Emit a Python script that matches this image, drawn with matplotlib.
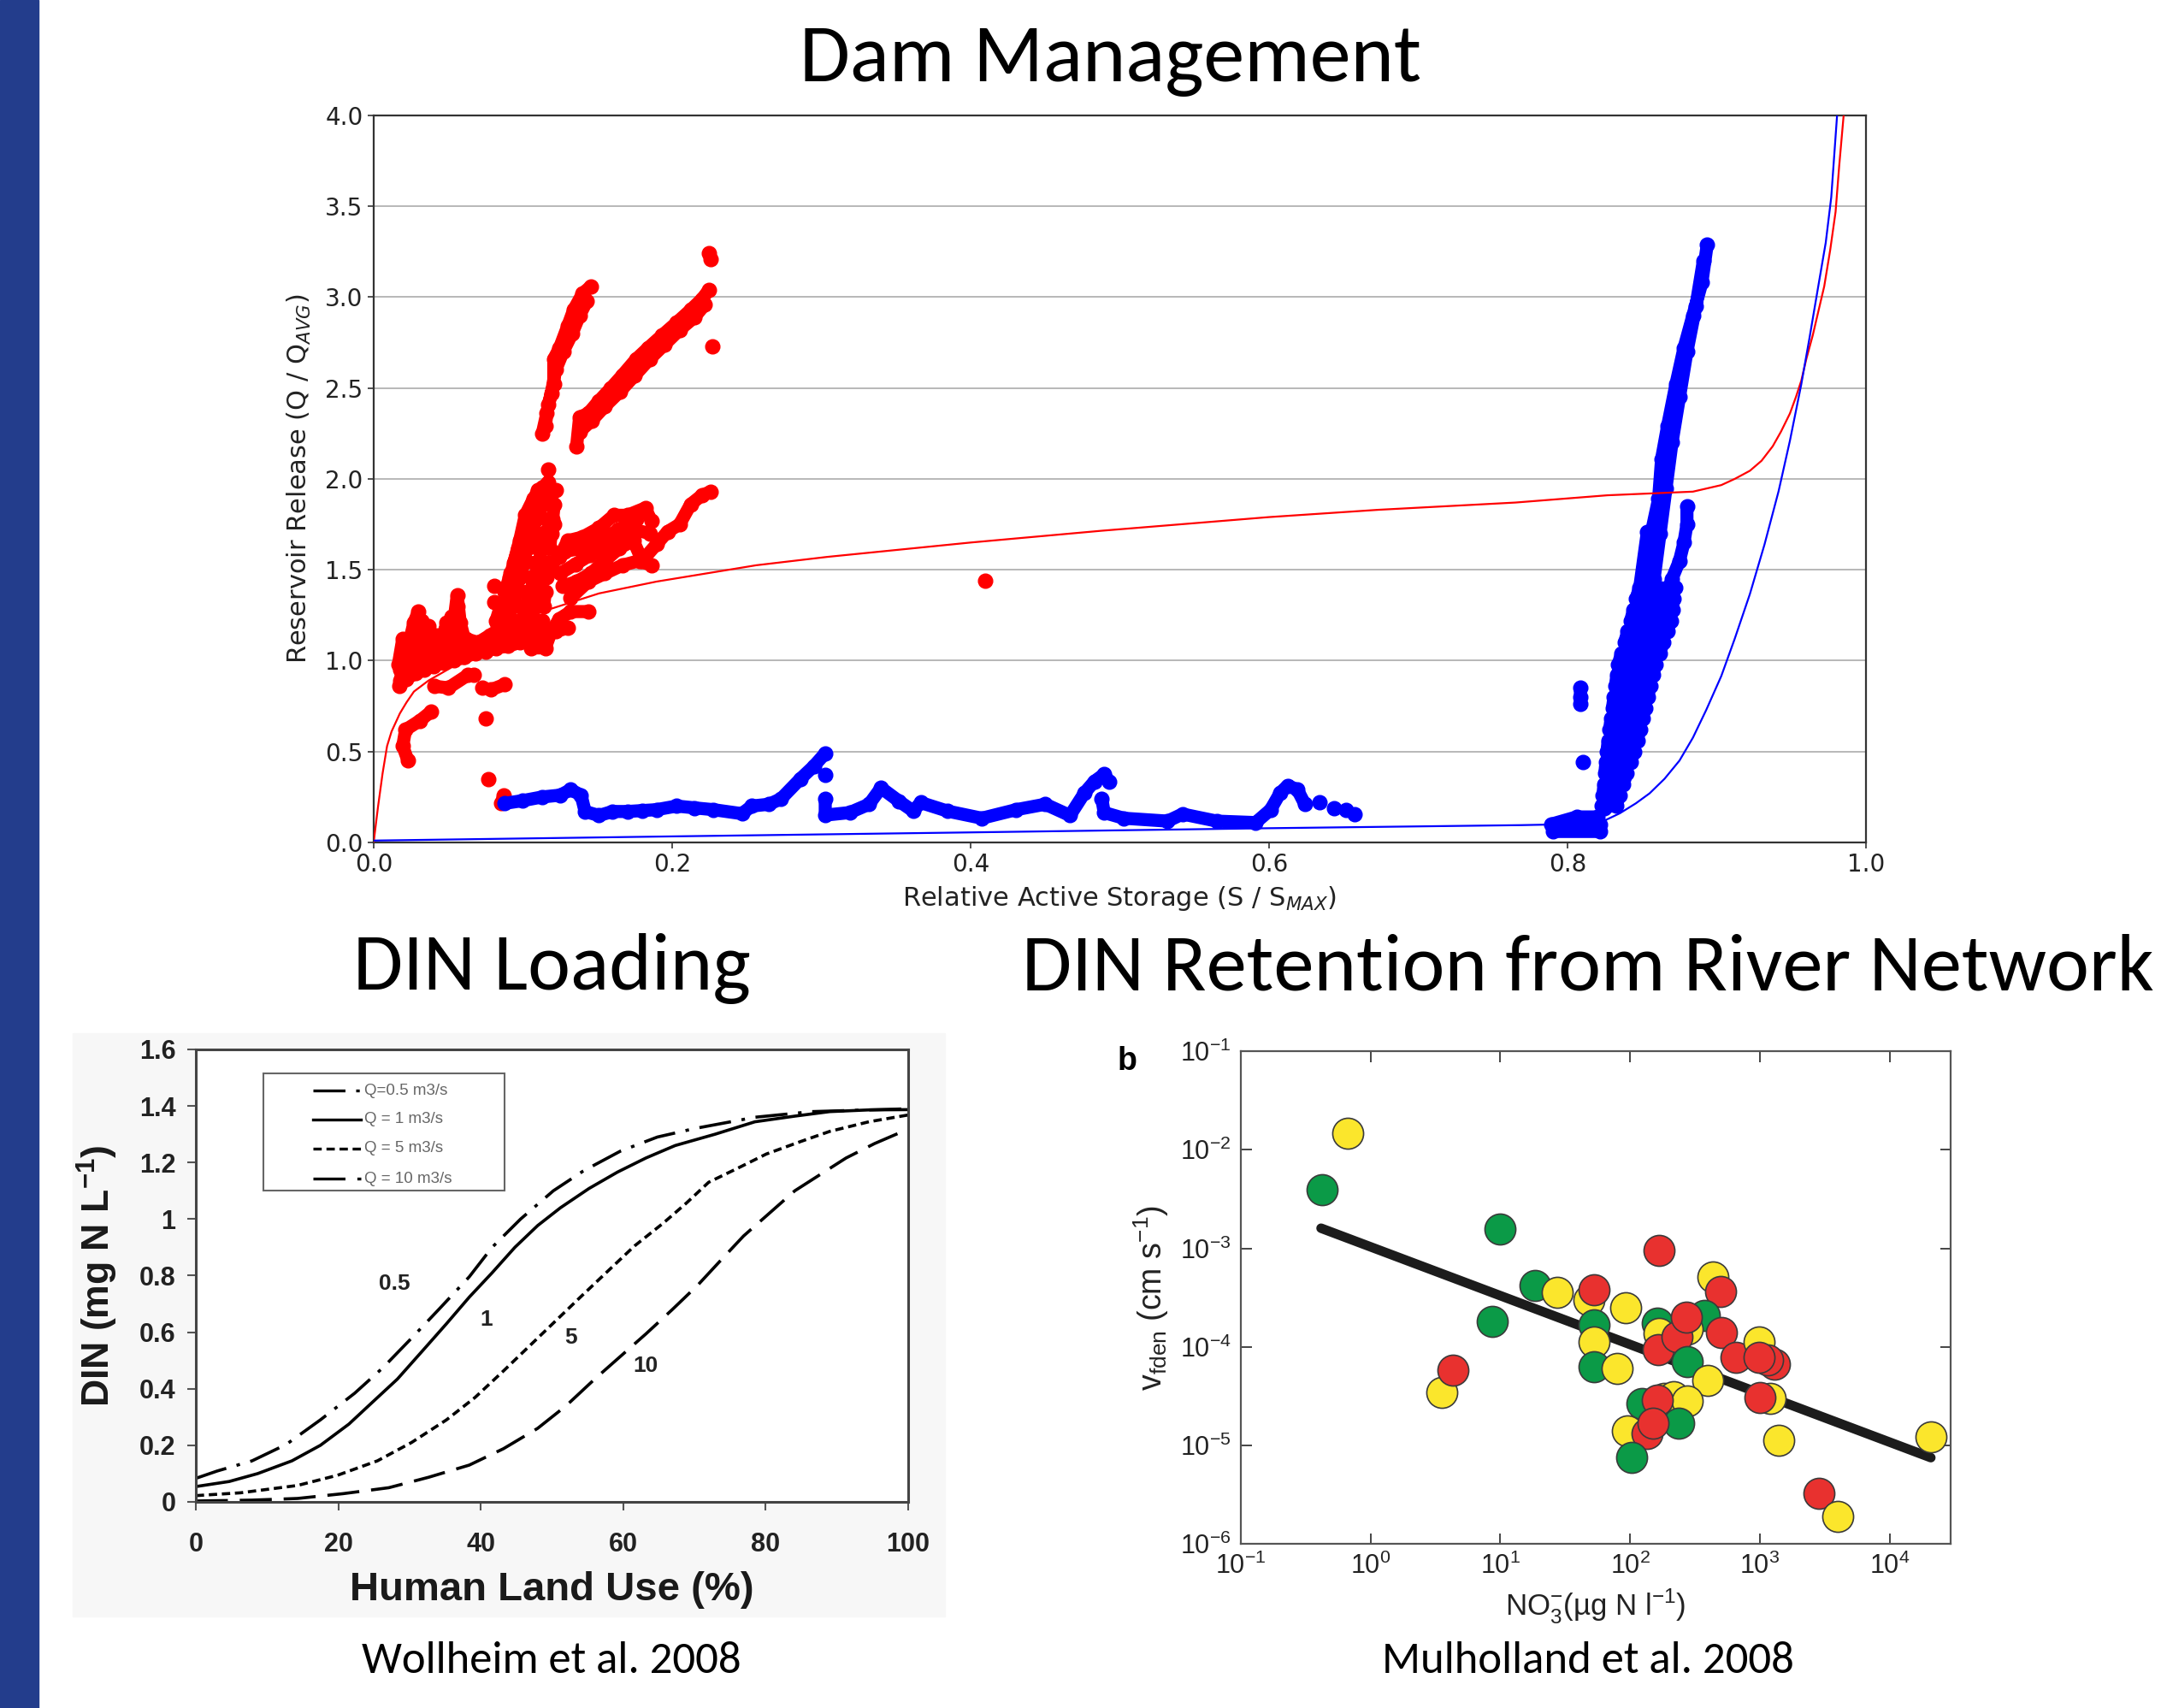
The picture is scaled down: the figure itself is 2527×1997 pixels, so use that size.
import numpy as np
import matplotlib
matplotlib.use("Agg")
import matplotlib.pyplot as plt
from matplotlib import font_manager as fm
from matplotlib.lines import Line2D
from matplotlib.patches import Rectangle

gap = np.nan

# ---------------- Dam Management (top) ----------------
# model curves
red_curve_x = [0.0, 0.003, 0.006, 0.009, 0.012, 0.0176, 0.022, 0.027, 0.0367, 0.0558, 0.0749, 0.094, 0.113,
               0.132, 0.151, 0.1895, 0.2564, 0.304, 0.40, 0.488, 0.60, 0.673, 0.765, 0.8267, 0.884,
               0.903, 0.912, 0.9222, 0.93, 0.9375, 0.943, 0.949, 0.953, 0.9566, 0.960, 0.9643, 0.968,
               0.972, 0.976, 0.9796, 0.982, 0.985]
red_curve_y = [0.0, 0.2, 0.38, 0.53, 0.61, 0.71, 0.77, 0.83, 0.89, 0.98, 1.05, 1.19, 1.27,
               1.32, 1.37, 1.435, 1.525, 1.571, 1.65, 1.715, 1.79, 1.83, 1.87, 1.91, 1.93,
               1.966, 2.0, 2.045, 2.10, 2.18, 2.26, 2.36, 2.45, 2.54, 2.66, 2.79, 2.92,
               3.06, 3.26, 3.47, 3.72, 4.0]
blue_curve_x = [0.0, 0.20, 0.40, 0.60, 0.7694, 0.80, 0.823, 0.835, 0.8458, 0.855, 0.865, 0.875, 0.884,
                0.893, 0.903, 0.912, 0.9222, 0.932, 0.9414, 0.949, 0.9566, 0.962, 0.968, 0.973,
                0.9767, 0.9806]
blue_curve_y = [0.01, 0.033, 0.055, 0.078, 0.095, 0.10, 0.113, 0.16, 0.215, 0.27, 0.35, 0.45, 0.576,
                0.73, 0.915, 1.12, 1.367, 1.64, 1.932, 2.21, 2.52, 2.77, 3.06, 3.30,
                3.55, 4.0]

# observed releases, streaks separated by gaps
red_x = [0.017, 0.022, 0.028, 0.034, 0.040, 0.047, 0.054, 0.061, 0.068, 0.075, 0.082, 0.090, 0.098, 0.106, 0.114, 0.122, 0.130, gap,
         0.0166, 0.0195, 0.023, 0.027, 0.030, 0.033, 0.0367, 0.0395, 0.044, 0.049, 0.054, 0.056, 0.058, 0.0615, gap,
         0.018, 0.020, 0.022, 0.024, 0.026, 0.028, 0.030, 0.032, 0.034, 0.036, 0.038, 0.040, 0.042, 0.044,
         0.046, 0.048, 0.050, 0.052, 0.054, 0.056, 0.058, 0.060, gap,
         0.0176, 0.0214, 0.029, 0.0367, 0.046, 0.056, 0.066, 0.076, gap,
         0.062, 0.070, 0.078, 0.086, 0.094, 0.100, gap,
         0.0386, 0.031, 0.0214, 0.0195, 0.023, gap,
         0.0405, 0.050, 0.063, 0.0673, gap,
         0.0730, 0.0787, 0.088, gap,
         0.0749, gap, 0.0768, gap, 0.0854, 0.0873, gap, 0.0806, gap, 0.0806, gap,
         0.080, 0.112, 0.113, 0.082, 0.085, 0.114, 0.115, 0.088, 0.091, 0.116, 0.117, 0.094,
         0.097, 0.118, 0.119, 0.100, 0.103, 0.120, 0.121, 0.106, 0.110, 0.122, gap,
         0.0825, 0.0883, 0.092, 0.0978, 0.1016, 0.107, 0.113, 0.117, gap,
         0.0863, 0.094, 0.0997, 0.1054, 0.111, 0.1188, gap,
         0.090, 0.0997, 0.1054, 0.111, 0.115, 0.1207, gap,
         0.0978, 0.105, 0.109, 0.113, gap,
         0.117, gap,
         0.1054, 0.115, 0.119, 0.1245, 0.132, 0.1437, gap,
         0.115, 0.1245, 0.130, 0.140, 0.151, 0.161, 0.170, 0.182, 0.186, gap,
         0.1265, 0.136, 0.1456, 0.155, 0.1647, 0.174, 0.180, 0.1895, 0.197, 0.205, 0.2124, 0.220, 0.2258, gap,
         0.125, 0.135, 0.145, 0.155, 0.165, 0.175, 0.185, gap,
         0.128, 0.140, 0.152, 0.164, 0.176, gap,
         0.132, 0.1437, 0.155, 0.1666, 0.178, 0.186, gap,
         0.115, 0.117, 0.1207, 0.1207, 0.1245, 0.130, 0.134, 0.140, 0.1456, gap,
         0.113, 0.116, 0.119, 0.122, 0.127, 0.133, 0.138, 0.143, gap,
         0.136, 0.138, 0.1437, 0.151, 0.159, 0.1666, 0.176, 0.1838, 0.1933, 0.203, 0.2124, 0.220, 0.2247, gap,
         0.138, 0.146, 0.155, 0.165, 0.175, 0.185, 0.195, 0.205, 0.215, 0.222, gap,
         0.2247, 0.2258, gap, 0.2267, gap, 0.41]
red_y = [0.86, 0.90, 0.93, 0.95, 0.97, 0.99, 1.00, 1.02, 1.04, 1.05, 1.07, 1.08, 1.10, 1.12, 1.14, 1.16, 1.18, gap,
         0.98, 1.12, 1.07, 1.21, 1.27, 1.10, 1.19, 1.12, 1.05, 1.21, 1.23, 1.36, 1.21, 1.10, gap,
         0.95, 1.05, 0.92, 1.08, 0.98, 1.15, 1.02, 1.22, 1.05, 1.12, 0.98, 1.06, 1.14, 1.02,
         1.10, 1.17, 1.05, 1.24, 1.12, 1.30, 1.08, 1.02, gap,
         0.89, 1.01, 0.96, 1.01, 1.03, 1.07, 1.09, 1.12, gap,
         1.12, 1.10, 1.14, 1.16, 1.20, 1.22, gap,
         0.72, 0.67, 0.62, 0.53, 0.45, gap,
         0.86, 0.85, 0.92, 0.92, gap,
         0.85, 0.84, 0.87, gap,
         0.68, gap, 0.35, gap, 0.215, 0.26, gap, 1.41, gap, 1.32, gap,
         1.15, 1.15, 1.22, 1.22, 1.30, 1.30, 1.38, 1.38, 1.46, 1.46, 1.54, 1.54,
         1.62, 1.62, 1.70, 1.70, 1.78, 1.78, 1.86, 1.86, 1.94, 1.94, gap,
         1.21, 1.30, 1.48, 1.66, 1.80, 1.89, 1.955, 1.98, gap,
         1.14, 1.32, 1.53, 1.68, 1.84, 1.91, gap,
         1.10, 1.23, 1.39, 1.55, 1.71, 1.75, gap,
         1.12, 1.21, 1.35, 1.48, gap,
         2.05, gap,
         1.07, 1.07, 1.16, 1.23, 1.27, 1.27, gap,
         1.50, 1.57, 1.66, 1.68, 1.73, 1.80, 1.80, 1.84, 1.77, gap,
         1.41, 1.435, 1.48, 1.55, 1.62, 1.66, 1.55, 1.64, 1.71, 1.75, 1.86, 1.91, 1.93, gap,
         1.48, 1.53, 1.58, 1.62, 1.68, 1.72, 1.70, gap,
         1.60, 1.62, 1.66, 1.72, 1.78, gap,
         1.345, 1.435, 1.48, 1.525, 1.55, 1.525, gap,
         2.29, 2.41, 2.52, 2.66, 2.72, 2.84, 2.93, 3.02, 3.06, gap,
         2.25, 2.36, 2.47, 2.60, 2.70, 2.80, 2.90, 2.98, gap,
         2.18, 2.34, 2.36, 2.43, 2.50, 2.57, 2.66, 2.72, 2.79, 2.86, 2.93, 2.99, 3.04, gap,
         2.26, 2.32, 2.40, 2.48, 2.57, 2.66, 2.74, 2.82, 2.89, 2.96, gap,
         3.24, 3.21, gap, 2.73, gap, 1.44]

blue_x = [0.088, 0.100, 0.113, 0.125, 0.132, 0.139, 0.1417, 0.151, 0.160, 0.170, 0.180, 0.1895, 0.203, 0.215, 0.2277,
          0.2468, 0.2534, 0.265, 0.273, 0.286, 0.295, 0.3026, gap,
          0.3026, gap,
          0.3026, 0.3026, 0.319, 0.332, 0.340, 0.352, 0.3616, 0.3666, 0.3846, 0.4075, 0.4305, 0.450, 0.4666, 0.4764,
          0.483, 0.4895, 0.4928, gap,
          0.4879, 0.4895, 0.5026, 0.532, 0.542, 0.565, 0.591, 0.601, 0.6075, 0.6125, 0.619, 0.624, gap,
          0.6338, gap, 0.6436, gap, 0.6518, gap, 0.6574, gap,
          0.790, 0.822, 0.822, 0.789, 0.806, 0.820, gap,
          0.8248, 0.8306, 0.836, 0.842, 0.850, 0.855, 0.861, 0.863, 0.867, 0.8726, 0.878, 0.884, 0.890, 0.8936, gap,
          0.858, 0.862, 0.866, 0.870, 0.875, 0.880, 0.886, 0.891, gap,
          0.8230, 0.8325, 0.8349, 0.8237, 0.8244, 0.8373, 0.8398, 0.8250, 0.8257, 0.8422, 0.8446, 0.8264,
          0.8272, 0.8467, 0.8484, 0.8282, 0.8291, 0.8502, 0.8519, 0.8301, 0.8311, 0.8537, 0.8554, 0.8321,
          0.8330, 0.8572, 0.8590, 0.8340, 0.8361, 0.8616, 0.8642, 0.8382, 0.8403, 0.8668, 0.8692, 0.8423,
          0.8442, 0.8702, 0.8711, 0.8461, 0.8480, 0.8720, gap,
          0.8478, 0.8535, gap,
          0.861, 0.866, 0.870, 0.875, 0.878, 0.880, 0.880, gap,
          0.8086, 0.8086, 0.8086, gap, 0.8105]
blue_y = [0.215, 0.23, 0.25, 0.26, 0.29, 0.26, 0.17, 0.148, 0.17, 0.17, 0.175, 0.18, 0.20, 0.19, 0.18,
          0.158, 0.20, 0.21, 0.24, 0.35, 0.42, 0.49, gap,
          0.37, gap,
          0.24, 0.15, 0.164, 0.21, 0.30, 0.227, 0.172, 0.219, 0.172, 0.133, 0.18, 0.21, 0.148, 0.273,
          0.336, 0.375, 0.336, gap,
          0.242, 0.164, 0.133, 0.117, 0.156, 0.117, 0.109, 0.18, 0.273, 0.3125, 0.29, 0.21, gap,
          0.219, gap, 0.1875, gap, 0.18, gap, 0.156, gap,
          0.06, 0.06, 0.10, 0.10, 0.14, 0.14, gap,
          0.19, 0.53, 0.87, 1.10, 1.39, 1.66, 1.89, 2.11, 2.29, 2.52, 2.72, 2.90, 3.08, 3.29, gap,
          1.45, 1.70, 1.95, 2.20, 2.45, 2.70, 2.95, 3.20, gap,
          0.20, 0.20, 0.26, 0.26, 0.32, 0.32, 0.38, 0.38, 0.44, 0.44, 0.50, 0.50,
          0.56, 0.56, 0.62, 0.62, 0.68, 0.68, 0.74, 0.74, 0.80, 0.80, 0.86, 0.86,
          0.92, 0.92, 0.98, 0.98, 1.04, 1.04, 1.10, 1.10, 1.16, 1.16, 1.22, 1.22,
          1.28, 1.28, 1.34, 1.34, 1.40, 1.40, gap,
          1.37, 1.71, gap,
          1.21, 1.35, 1.45, 1.55, 1.65, 1.75, 1.85, gap,
          0.76, 0.80, 0.85, gap, 0.44]

dam_xticks = [0.0, 0.2, 0.4, 0.6, 0.8, 1.0]
dam_yticks = [0.0, 0.5, 1.0, 1.5, 2.0, 2.5, 3.0, 3.5, 4.0]

# ---------------- DIN Loading (bottom left) ----------------
q05_x = [0, 3.0, 7.9, 12.7, 17.5, 22.3, 26.3, 30.3, 34.1, 38.4, 41.6, 45.6, 50.2, 54.4, 59.6, 64.8, 70, 78.5, 86.5, 100]
q05_y = [0.083, 0.109, 0.145, 0.203, 0.29, 0.384, 0.475, 0.579, 0.68, 0.796, 0.90, 1.0, 1.10, 1.17, 1.24, 1.29,
         1.32, 1.36, 1.38, 1.39]
q1_x = [0, 4.7, 8.7, 13.5, 17.5, 21.5, 24.7, 28.3, 31.9, 35.2, 38.4, 41.6, 44.8, 48, 51.2, 55.2, 59.2, 63.2,
        67.3, 72.9, 78.5, 84.1, 89, 94.5, 100]
q1_y = [0.054, 0.072, 0.10, 0.145, 0.20, 0.275, 0.35, 0.434, 0.536, 0.63, 0.724, 0.81, 0.90, 0.977, 1.04, 1.108,
        1.166, 1.216, 1.26, 1.30, 1.344, 1.364, 1.38, 1.386, 1.387]
q5_x = [0, 6.3, 14.3, 19.9, 25.5, 30.3, 35.2, 39.2, 43.2, 46.8, 50.4, 54, 57.6, 61.6, 65.6, 68.9, 72, 76.1,
        80.1, 84.9, 89, 94.5, 100]
q5_y = [0.022, 0.032, 0.058, 0.094, 0.145, 0.21, 0.29, 0.369, 0.463, 0.55, 0.637, 0.724, 0.81, 0.905, 0.985,
        1.057, 1.13, 1.18, 1.23, 1.274, 1.31, 1.344, 1.368]
q10_x = [0, 7.9, 14.3, 20.7, 27.1, 32.7, 38.4, 43.2, 48, 52, 56, 59.6, 63.2, 66.9, 70.5, 73.7, 76.9, 80.5,
         84.1, 87.7, 91.3, 95.3, 100]
q10_y = [0.003, 0.006, 0.012, 0.029, 0.05, 0.087, 0.13, 0.188, 0.26, 0.34, 0.434, 0.514, 0.594, 0.68, 0.767,
         0.854, 0.94, 1.02, 1.10, 1.158, 1.216, 1.267, 1.318]
din_labels = ["Q=0.5 m3/s", "Q = 1 m3/s", "Q = 5 m3/s", "Q = 10 m3/s"]
curve_tags = ["0.5", "1", "5", "10"]
tag_x = [27.9, 40.8, 52.6, 63.1]
tag_y = [0.77, 0.645, 0.58, 0.48]
din_xticks = [0, 20, 40, 60, 80, 100]
din_yticks = [0, 0.2, 0.4, 0.6, 0.8, 1.0, 1.2, 1.4, 1.6]
din_yticklabels = ["0", "0.2", "0.4", "0.6", "0.8", "1", "1.2", "1.4", "1.6"]

# ---------------- DIN Retention (bottom right) ----------------
no3 = [0.67, 0.42, 9.9, 168, 433, 499, 18.4, 27.3, 48, 53, 93, 8.6, 53, 53, 53, 79, 3.54, 4.3,
       161, 166, 376, 277, 165, 231, 271, 509, 277, 395, 656, 986, 1298, 1148, 986,
       1208, 1007, 1406, 20800, 2864, 4009, 123, 184, 215, 277, 161, 238, 95, 136, 150, 103]
vfden = [1.46e-2, 3.9e-3, 1.58e-3, 9.5e-4, 5.1e-4, 3.66e-4, 4.2e-4, 3.56e-4, 3.0e-4, 3.8e-4, 2.5e-4, 1.81e-4,
         1.66e-4, 1.13e-4, 6.3e-5, 6.0e-5, 3.45e-5, 5.8e-5,
         1.74e-4, 1.37e-4, 2.1e-4, 1.5e-4, 9.4e-5, 1.27e-4, 2.0e-4, 1.4e-4, 7.1e-5, 4.6e-5, 7.8e-5, 1.13e-4,
         6.7e-5, 7.4e-5, 7.9e-5, 3.0e-5, 3.05e-5, 1.13e-5, 1.21e-5, 3.26e-6, 1.89e-6,
         2.65e-5, 3.0e-5, 3.1e-5, 2.85e-5, 2.86e-5, 1.69e-5, 1.4e-5, 1.33e-5, 1.69e-5, 7.5e-6]
site = ["y", "g", "g", "r", "y", "r", "g", "y", "y", "r", "y", "g",
        "g", "y", "g", "y", "y", "r",
        "g", "y", "g", "y", "r", "r", "r", "r", "g", "y", "r", "y",
        "r", "r", "r", "y", "r", "y", "y", "r", "y",
        "g", "y", "y", "y", "r", "g", "y", "r", "r", "g"]
fit_x = [0.415, 20800]
fit_y = [1.6e-3, 7.5e-6]
ret_ticks = [1e-1, 1e0, 1e1, 1e2, 1e3, 1e4]
ret_xticklabels = [r"$\mathregular{10^{-1}}$", r"$\mathregular{10^{0}}$", r"$\mathregular{10^{1}}$",
                   r"$\mathregular{10^{2}}$", r"$\mathregular{10^{3}}$", r"$\mathregular{10^{4}}$"]
ret_yticks = [1e-6, 1e-5, 1e-4, 1e-3, 1e-2, 1e-1]
ret_yticklabels = [r"$\mathregular{10^{-6}}$", r"$\mathregular{10^{-5}}$", r"$\mathregular{10^{-4}}$",
                   r"$\mathregular{10^{-3}}$", r"$\mathregular{10^{-2}}$", r"$\mathregular{10^{-1}}$"]
site_colors = {"g": "#0b9a47", "y": "#fbe62c", "r": "#e8312f"}

# ---------------- fonts ----------------
names = {f.name for f in fm.fontManager.ttflist}
slide_font = "Carlito" if "Carlito" in names else "Lato"
arial = "Liberation Sans"
plt.rcParams["lines.scale_dashes"] = False

fig = plt.figure(figsize=(25.27, 19.97), dpi=100)
fig.patches.append(Rectangle((0, 0), 0.0178, 1, transform=fig.transFigure, color="#233d8c", zorder=-5))
fig.patches.append(Rectangle((0.0336, 0.0536), 0.4037, 0.3414, transform=fig.transFigure,
                             color="#f7f7f7", zorder=-5))

# ---- top ----
ax = fig.add_axes([0.1729, 0.5068, 0.6906, 0.4256])
ax.plot(red_x, red_y, color="red", lw=11, marker="o", ms=12, solid_capstyle="round",
        solid_joinstyle="round", zorder=2)
ax.plot(blue_x, blue_y, color="blue", lw=11, marker="o", ms=12, solid_capstyle="round",
        solid_joinstyle="round", zorder=2)
ax.plot(red_curve_x, red_curve_y, color="red", lw=1.6, zorder=3)
ax.plot(blue_curve_x, blue_curve_y, color="blue", lw=1.6, zorder=3)
ax.set_xlim(0, 1)
ax.set_ylim(0, 4)
ax.set_xticks(dam_xticks)
ax.set_yticks(dam_yticks)
ax.set_xticklabels([f"{v:.1f}" for v in dam_xticks], fontsize=20, color="#222", family="DejaVu Sans")
ax.set_yticklabels([f"{v:.1f}" for v in dam_yticks], fontsize=20, color="#222", family="DejaVu Sans")
ax.tick_params(length=5, width=1.2, color="#333", pad=4)
ax.grid(axis="y", color="#b8b8b8", lw=1.4)
ax.set_axisbelow(True)
for s in ax.spines.values():
    s.set_color("#333")
    s.set_linewidth(1.6)
ax.set_xlabel(r"Relative Active Storage (S / S$_{MAX}$)", fontsize=22, color="#222", labelpad=6,
              family="DejaVu Sans")
ax.set_ylabel(r"Reservoir Release (Q / Q$_{AVG}$)", fontsize=22, color="#222", family="DejaVu Sans",
              labelpad=10)

# ---- bottom left ----
bx = fig.add_axes([0.0906, 0.1207, 0.3296, 0.2649])
bx.set_facecolor("white")
styles = [(0, (27, 9, 3, 9)), "-", (0, (7, 4)), (0, (27, 10))]
for xs, ys, st in zip([q05_x, q1_x, q5_x, q10_x], [q05_y, q1_y, q5_y, q10_y], styles):
    bx.plot(xs, ys, color="black", lw=2.6, ls=st)
for t, tx, ty in zip(curve_tags, tag_x, tag_y):
    bx.text(tx, ty, t, fontsize=19, fontweight="bold", family=arial, color="#222", ha="center", va="center")
bx.set_xlim(0, 100)
bx.set_ylim(0, 1.6)
bx.set_xticks(din_xticks)
bx.set_yticks(din_yticks)
bx.set_xticklabels([str(v) for v in din_xticks], fontsize=22, fontweight="bold", family=arial, color="#222")
bx.set_yticklabels(din_yticklabels, fontsize=22, fontweight="bold", family=arial, color="#222")
bx.tick_params(axis="x", length=7, width=1.5, color="#555", pad=18)
bx.tick_params(axis="y", length=7, width=1.5, color="#555", pad=10)
for s in bx.spines.values():
    s.set_color("#444")
    s.set_linewidth(2.2)
bx.set_xlabel("Human Land Use (%)", fontsize=34, fontweight="bold", family=arial, color="#1a1a1a", labelpad=12)
bx.set_ylabel(r"DIN (mg N L$^{\mathregular{-1}}$)", fontsize=32, fontweight="bold", family=arial,
              color="#1a1a1a", labelpad=16)
# legend box drawn by hand (wide left padding like the source figure)
bx.add_patch(Rectangle((0.095, 0.688), 0.338, 0.259, transform=bx.transAxes, facecolor="white",
                       edgecolor="#666", lw=1.5, zorder=4))
row_y = [0.909, 0.845, 0.781, 0.714]
for lab, st, ry in zip(din_labels, styles, row_y):
    bx.add_line(Line2D([0.164, 0.232], [ry, ry], transform=bx.transAxes, color="black", lw=2.4, ls=st, zorder=5))
    bx.text(0.236, ry, lab, transform=bx.transAxes, fontsize=13.5, family=arial, color="#666",
            va="center", ha="left", zorder=5)

# ---- bottom right ----
cx = fig.add_axes([0.5742, 0.0961, 0.3285, 0.2884])
cx.plot(fit_x, fit_y, color="#1c1c1c", lw=8, solid_capstyle="round", zorder=2)
for xv, yv, c in zip(no3, vfden, site):
    cx.plot(xv, yv, marker="o", ms=26, mfc=site_colors[c], mec="#3a3a3a", mew=1.2, ls="", zorder=3)
cx.set_xscale("log")
cx.set_yscale("log")
cx.set_xlim(1e-1, 2.96e4)
cx.set_ylim(1e-6, 1e-1)
cx.set_xticks(ret_ticks)
cx.set_yticks(ret_yticks)
cx.minorticks_off()
cx.set_xticklabels(ret_xticklabels, fontsize=22, family=arial, color="#222")
cx.set_yticklabels(ret_yticklabels, fontsize=22, family=arial, color="#222")
cx.tick_params(direction="in", length=9, width=1.4, color="#444", top=True, right=True, pad=8)
for s in cx.spines.values():
    s.set_color("#555")
    s.set_linewidth(1.6)
cx.set_xlabel(r"NO$_{\mathregular{3}}^{\mathregular{-}}$(µg N l$^{\mathregular{-1}}$)", fontsize=25,
              family=arial, color="#222", labelpad=6)
cx.set_ylabel(r"$\mathregular{v_{fden}}$ (cm s$^{\mathregular{-1}}$)", fontsize=27, family=arial,
              color="#222", labelpad=8)
fig.text(0.5216, 0.3786, "b", fontsize=27, fontweight="bold", family=arial, ha="center", va="center")

# ---- slide text ----
fig.text(0.514, 0.964, "Dam Management", fontsize=69, family=slide_font, ha="center", va="center")
fig.text(0.2552, 0.4327, "DIN Loading", fontsize=68, family=slide_font, ha="center", va="center")
fig.text(0.7349, 0.4327, "DIN Retention from River Network", fontsize=68, family=slide_font,
         ha="center", va="center")
fig.text(0.2552, 0.0275, "Wollheim et al. 2008", fontsize=38, family=slide_font, ha="center", va="center")
fig.text(0.7349, 0.0275, "Mulholland et al. 2008", fontsize=38, family=slide_font, ha="center", va="center")

fig.savefig("out.png", dpi=100)
